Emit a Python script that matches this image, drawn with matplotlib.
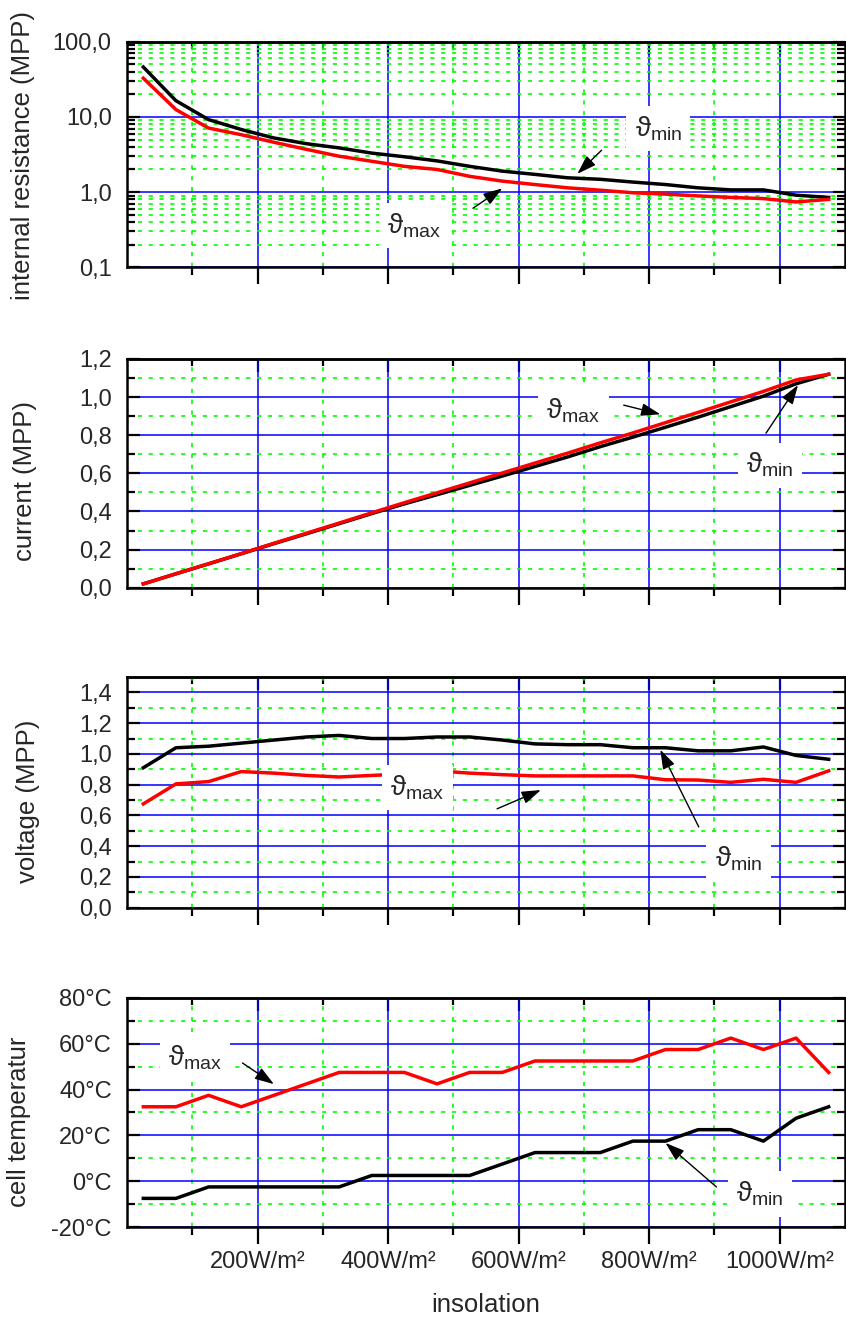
import numpy as np
import matplotlib
matplotlib.use('Agg')
import matplotlib.pyplot as plt
from matplotlib.ticker import LogLocator, NullFormatter

plt.rcParams['font.family'] = ['Liberation Sans', 'DejaVu Sans']
plt.rcParams['mathtext.fontset'] = 'custom'
plt.rcParams['mathtext.rm'] = 'Liberation Sans'
plt.rcParams['mathtext.it'] = 'Liberation Sans:italic'
plt.rcParams['mathtext.bf'] = 'Liberation Sans:bold'

# insolation steps (W/m2)
insolation = [25, 75, 125, 175, 225, 275, 325, 375, 425, 475, 525,
              575, 625, 675, 725, 775, 825, 875, 925, 975, 1025, 1075]

# internal resistance (MPP), log scale
r_min = [46, 16.4, 9.2, 6.8, 5.25, 4.4, 3.87, 3.3, 2.95, 2.6, 2.2,
         1.9, 1.72, 1.55, 1.48, 1.36, 1.26, 1.14, 1.07, 1.07, 0.91, 0.85]
r_max = [32.7, 12.5, 7.1, 5.8, 4.6, 3.7, 3.0, 2.57, 2.2, 2.0, 1.62,
         1.4, 1.26, 1.14, 1.06, 0.98, 0.94, 0.89, 0.85, 0.82, 0.74, 0.8]

# current (MPP)
i_min = [0.02, 0.073, 0.125, 0.178, 0.231, 0.283, 0.336, 0.389, 0.44, 0.488, 0.537,
         0.586, 0.636, 0.686, 0.74, 0.79, 0.842, 0.895, 0.95, 1.005, 1.07, 1.12]
i_max = [0.02, 0.073, 0.126, 0.179, 0.233, 0.286, 0.339, 0.393, 0.446, 0.498, 0.55,
         0.602, 0.654, 0.706, 0.76, 0.812, 0.866, 0.92, 0.975, 1.03, 1.09, 1.12]

# voltage (MPP)
u_min = [0.91, 1.04, 1.05, 1.07, 1.09, 1.11, 1.12, 1.10, 1.10, 1.11, 1.11,
         1.09, 1.065, 1.06, 1.06, 1.04, 1.04, 1.02, 1.02, 1.045, 0.99, 0.965]
u_max = [0.675, 0.805, 0.82, 0.885, 0.875, 0.86, 0.85, 0.86, 0.87, 0.89, 0.875,
         0.865, 0.857, 0.857, 0.857, 0.857, 0.832, 0.83, 0.815, 0.835, 0.815, 0.89]

# cell temperature (C)
t_min = [-7.5, -7.5, -2.5, -2.5, -2.5, -2.5, -2.5, 2.5, 2.5, 2.5, 2.5,
         7.5, 12.5, 12.5, 12.5, 17.5, 17.5, 22.5, 22.5, 17.5, 27.5, 32.5]
t_max = [32.5, 32.5, 37.5, 32.5, 37.5, 42.5, 47.5, 47.5, 47.5, 42.5, 47.5,
         47.5, 52.5, 52.5, 52.5, 52.5, 57.5, 57.5, 62.5, 57.5, 62.5, 47.5]

x_major = [200, 400, 600, 800, 1000]
x_minor = [100, 300, 500, 700, 900]
x_labels = ['200W/m²', '400W/m²', '600W/m²', '800W/m²', '1000W/m²']

r_ticks = [0.1, 1, 10, 100]
r_labels = ['0,1', '1,0', '10,0', '100,0']
i_ticks = [0, 0.2, 0.4, 0.6, 0.8, 1.0, 1.2]
i_labels = ['0,0', '0,2', '0,4', '0,6', '0,8', '1,0', '1,2']
u_ticks = [0, 0.2, 0.4, 0.6, 0.8, 1.0, 1.2, 1.4]
u_labels = ['0,0', '0,2', '0,4', '0,6', '0,8', '1,0', '1,2', '1,4']
t_ticks = [-20, 0, 20, 40, 60, 80]
t_labels = ['-20°C', '0°C', '20°C', '40°C', '60°C', '80°C']

W, H = 846, 1317
TXT = '#262626'
fig = plt.figure(figsize=(W / 100, H / 100), dpi=100)


def rect(top, bottom, left=127, right=845):
    return [left / W, 1 - bottom / H, (right - left) / W, (bottom - top) / H]


def style(ax, ticks, labels, minor=None, show_x=False):
    ax.set_xlim(0, 1100)
    ax.set_xticks(x_major)
    ax.set_xticks(x_minor, minor=True)
    if show_x:
        ax.set_xticklabels(x_labels)
    else:
        ax.set_xticklabels([])
    ax.set_yticks(ticks)
    ax.set_yticklabels(labels)
    if minor is not None:
        ax.set_yticks(minor, minor=True)
    ax.grid(which='major', color='#0000ff', lw=1.1, ls='-')
    ax.grid(which='minor', color='#00ff00', lw=1.2, ls=(0, (2.5, 4)))
    ax.set_axisbelow(True)
    ax.tick_params(axis='x', which='both', direction='out', width=1.6,
                   top=False, labelsize=17, labelcolor=TXT, pad=5)
    ax.tick_params(axis='x', which='major', length=12)
    ax.tick_params(axis='x', which='minor', length=6)
    ax.tick_params(axis='y', which='both', direction='in', width=1.6,
                   right=True, labelsize=17, labelcolor=TXT, pad=11)
    ax.tick_params(axis='y', which='major', length=9)
    ax.tick_params(axis='y', which='minor', length=5.5)
    for s in ax.spines.values():
        s.set_linewidth(1.8)
    sec = ax.secondary_xaxis('top')
    sec.set_xticks(x_major)
    sec.set_xticks(x_minor, minor=True)
    sec.set_xticklabels([])
    sec.tick_params(which='both', direction='in', width=1.6)
    sec.tick_params(which='major', length=9)
    sec.tick_params(which='minor', length=5)
    sec.spines['top'].set_linewidth(1.8)


def mark(ax, txt, pos, head, tail):
    ax.annotate('', xy=head, xytext=tail, zorder=6,
                arrowprops=dict(arrowstyle='-|>,head_length=0.9,head_width=0.3',
                                color='k', lw=1, shrinkA=0, shrinkB=0,
                                mutation_scale=13))
    ax.text(pos[0], pos[1], txt, ha='center', va='center', fontsize=20,
            color=TXT, zorder=5,
            bbox=dict(boxstyle='square,pad=0.3', fc='white', ec='none'))


TMAX = r'$\mathrm{\vartheta}_{\mathrm{max}}$'
TMIN = r'$\mathrm{\vartheta}_{\mathrm{min}}$'

# internal resistance
ax1 = fig.add_axes(rect(41.7, 267.3))
ax1.set_yscale('log')
ax1.set_ylim(0.1, 100)
ax1.plot(insolation, r_min, color='k', lw=2.5)
ax1.plot(insolation, r_max, color='#ff0000', lw=2.5)
style(ax1, r_ticks, r_labels)
ax1.yaxis.set_minor_locator(LogLocator(base=10, subs=np.arange(2, 10)))
ax1.yaxis.set_minor_formatter(NullFormatter())
mark(ax1, TMIN, (814, 7.0), (690, 1.75), (727, 3.6))
mark(ax1, TMAX, (440, 0.36), (575, 1.12), (530, 0.61))

# current
ax2 = fig.add_axes(rect(359, 587.7))
ax2.set_ylim(0, 1.2)
ax2.plot(insolation, i_min, color='k', lw=2.5)
ax2.plot(insolation, i_max, color='#ff0000', lw=2.5)
style(ax2, i_ticks, i_labels, minor=[0.1, 0.3, 0.5, 0.7, 0.9, 1.1])
mark(ax2, TMAX, (684, 0.93), (817, 0.91), (761, 0.958))
mark(ax2, TMIN, (985, 0.643), (1028, 1.063), (979, 0.811))

# voltage
ax3 = fig.add_axes(rect(677, 907.7))
ax3.set_ylim(0, 1.5)
ax3.plot(insolation, u_min, color='k', lw=2.5)
ax3.plot(insolation, u_max, color='#ff0000', lw=2.5)
style(ax3, u_ticks, u_labels, minor=[0.1, 0.3, 0.5, 0.7, 0.9, 1.1, 1.3])
mark(ax3, TMAX, (445, 0.78), (634, 0.765), (567, 0.643))
mark(ax3, TMIN, (937, 0.32), (817, 1.027), (876, 0.525))

# cell temperature
ax4 = fig.add_axes(rect(998, 1227))
ax4.set_ylim(-20, 80)
ax4.plot(insolation, t_min, color='k', lw=2.5)
ax4.plot(insolation, t_max, color='#ff0000', lw=2.5)
style(ax4, t_ticks, t_labels, minor=[-10, 10, 30, 50, 70], show_x=True)
mark(ax4, TMAX, (104, 53.8), (225, 42.4), (177, 51.6))
mark(ax4, TMIN, (970, -5.6), (825, 16.7), (903, -2.5))

# axis titles
fig.text(23 / W, 1 - 155 / H, 'internal resistance (MPP)', rotation=90,
         ha='center', va='center', fontsize=18.5, color=TXT)
fig.text(25 / W, 1 - 481 / H, 'current (MPP)', rotation=90,
         ha='center', va='center', fontsize=18.5, color=TXT)
fig.text(28 / W, 1 - 801 / H, 'voltage (MPP)', rotation=90,
         ha='center', va='center', fontsize=18.5, color=TXT)
fig.text(19 / W, 1 - 1122 / H, 'cell temperatur', rotation=90,
         ha='center', va='center', fontsize=18.5, color=TXT)
fig.text(486 / W, 1 - 1305 / H, 'insolation', ha='center', va='center',
         fontsize=18.5, color=TXT)

plt.savefig('out.png', dpi=100)
